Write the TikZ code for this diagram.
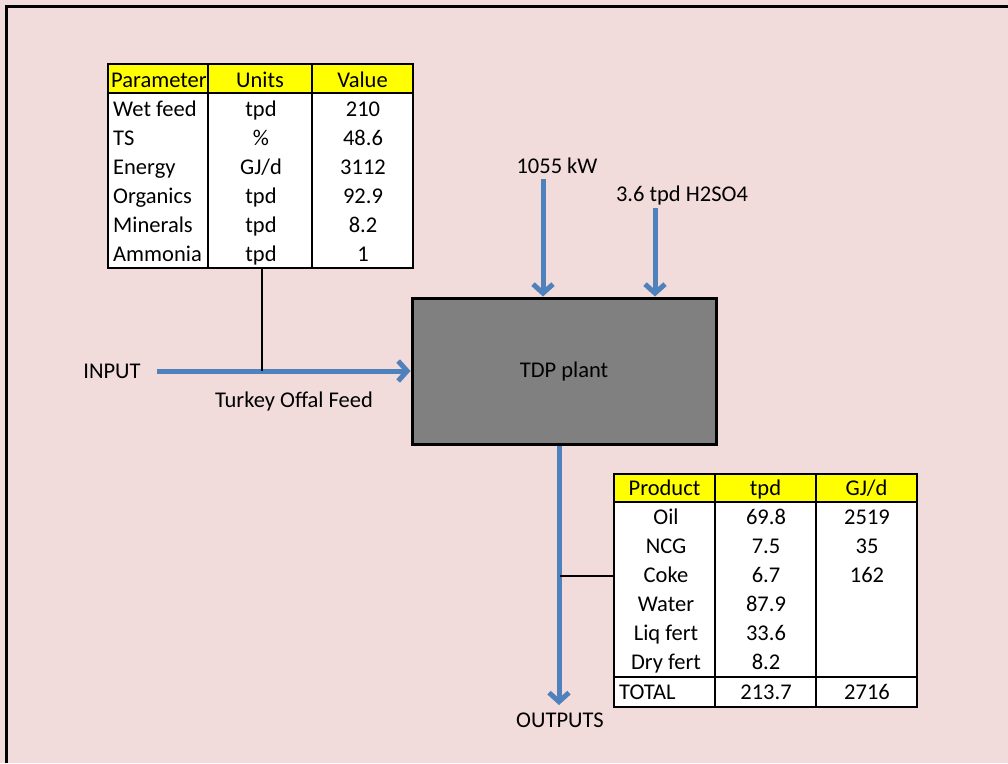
\documentclass[tikz,border=0pt]{standalone}
\usepackage{fontspec}
\setmainfont{Carlito}
\usetikzlibrary{arrows.meta}
\definecolor{bg}{HTML}{F2DCDB}
\definecolor{flow}{HTML}{4F81BD}
\definecolor{hdr}{HTML}{FFFF00}
\definecolor{plantgray}{HTML}{808080}
\begin{document}
\begin{tikzpicture}[x=1pt,y=-1pt,
  txt/.style={font=\fontsize{22.5}{27}\selectfont, inner sep=0pt, text height=20pt, text depth=3pt},
  flowarrow/.style={draw=flow, line width=5pt, -{Straight Barb[length=9pt,width=20pt]}},
  tbl/.style={draw=black, line width=2.6pt},
  thinrule/.style={draw=black, line width=2pt},
  joinline/.style={draw=black, line width=2pt},
  tablebox/.style={draw=black, line width=2.6pt, fill=white, inner sep=0pt},
  plantbox/.style={draw=black, line width=3pt, fill=plantgray, inner sep=0pt,
    minimum width=304pt, minimum height=146pt, font=\fontsize{22.5}{27}\selectfont,
    text height=16pt, text depth=4pt}]
\useasboundingbox (0,0) rectangle (1008,763);
\fill[bg] (0,0) rectangle (1008,763);
\draw[black, line width=3pt] (1008,6) -- (6,6) -- (6,763);

% ---------- input table ----------
\node[tablebox, minimum width=305pt, minimum height=204pt] (intab) at (260.5,166) {};
\fill[hdr] (109.3,65.3) rectangle (411.7,93);
\draw[tbl] (108,93) -- (413,93);
\draw[tbl] (208,64) -- (208,268);
\draw[tbl] (312,64) -- (312,268);
\draw[tbl] (108,64) rectangle (413,268);
\node[txt, anchor=west] (hp) at (111,78.5) {Parameter};
\node[txt] (hu) at (260,78.5) {Units};
\node[txt] (hv) at (362.5,78.5) {Value};
\foreach \i/\a/\b/\c in {1/Wet feed/tpd/210, 2/TS/\%/48.6, 3/Energy/GJ\slash d/3112,
    4/Organics/tpd/92.9, 5/Minerals/tpd/8.2, 6/Ammonia/tpd/1} {
  \node[txt, anchor=west] (pa\i) at (113,78.5+29*\i) {\a};
  \node[txt] (un\i) at (261,78.5+29*\i) {\b};
  \node[txt] (va\i) at (363,78.5+29*\i) {\c};
}

% ---------- plant ----------
\node[plantbox] (plant) at (564,371) {TDP plant};

% input flow
\coordinate (instart) at (157,371);
\coordinate (join) at (262,371);
\draw[flowarrow] (instart) -- (plant.west);
\draw[joinline] (intab.south -| join) -- (join);
\node[txt] (inlabel) at (112,370) {INPUT};
\node[txt] (feedlabel) at (294,398.5) {Turkey Offal Feed};

% top inputs
\coordinate (kwtop) at (543,179);
\coordinate (acidtop) at (655,208);
\draw[flowarrow] (kwtop) -- (kwtop |- plant.north);
\draw[flowarrow] (acidtop) -- (acidtop |- plant.north);
\node[txt] (kwlabel) at (557,165) {1055 kW};
\node[txt] (acidlabel) at (682,193) {3.6 tpd H2SO4};

% output
\coordinate (outtop) at (559,444);
\coordinate (outend) at (559,705);
\draw[flowarrow] (outtop |- plant.south) -- (outend);
\node[txt] (outlabel) at (560,718.5) {OUTPUTS};

% ---------- output table ----------
\node[tablebox, minimum width=303pt, minimum height=233pt] (outtab) at (765.5,590.5) {};
\fill[hdr] (615.3,475.3) rectangle (915.7,502);
\draw[tbl] (614,502) -- (917,502);
\draw[thinrule] (614,677) -- (917,677);
\draw[tbl] (715,474) -- (715,707);
\draw[tbl] (816,474) -- (816,707);
\draw[tbl] (614,474) rectangle (917,707);
\coordinate (tap) at (560,575.5);
\draw[joinline] (tap) -- (tap -| outtab.west);
\node[txt] (hpr) at (664.5,487) {Product};
\node[txt] (htp) at (765.5,487) {tpd};
\node[txt] (hgj) at (866.5,487) {GJ\slash d};
\foreach \i/\a/\b/\c in {1/Oil/69.8/2519, 2/NCG/7.5/35, 3/Coke/6.7/162,
    4/Water/87.9/, 5/Liq fert/33.6/, 6/Dry fert/8.2/} {
  \node[txt] (pr\i) at (666,487+29*\i) {\a};
  \node[txt] (tp\i) at (766,487+29*\i) {\b};
  \node[txt] (gj\i) at (867,487+29*\i) {\c};
}
\node[txt, anchor=west] (tot) at (619,691) {TOTAL};
\node[txt] (tottp) at (766,691) {213.7};
\node[txt] (totgj) at (867,691) {2716};
\end{tikzpicture}
\end{document}
